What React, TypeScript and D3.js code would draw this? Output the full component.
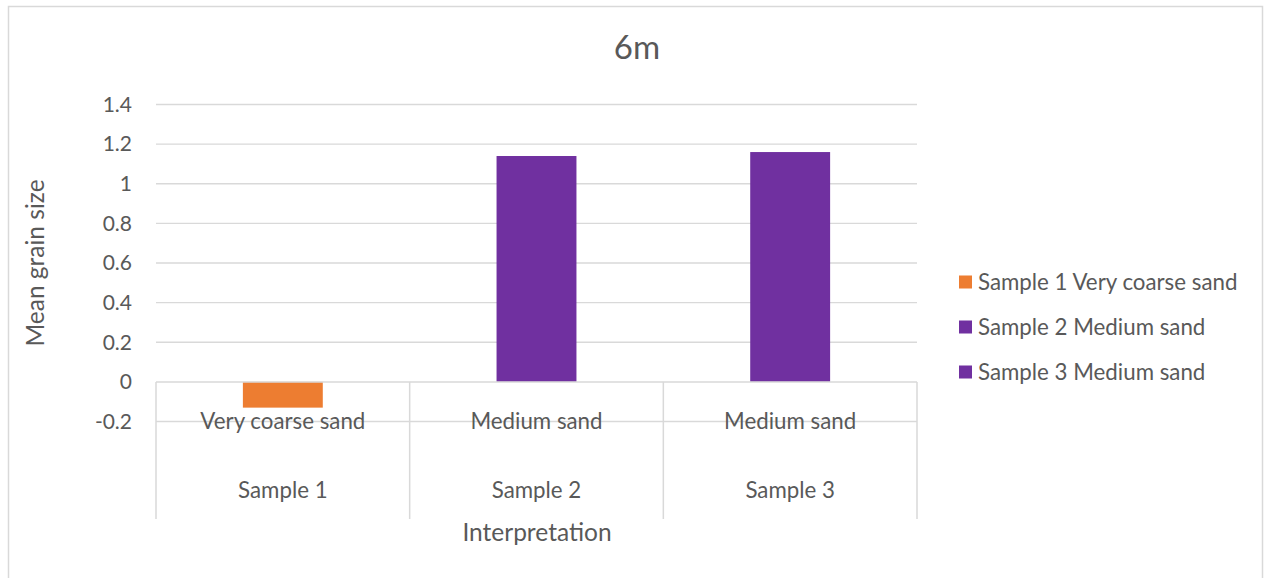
import React from "react";
import * as d3 from "d3";

const categories = ["Sample 1", "Sample 2", "Sample 3"];
const interpretations = ["Very coarse sand", "Medium sand", "Medium sand"];
const values = [-0.13, 1.14, 1.16];
const barColors = ["#ED7D31", "#7030A0", "#7030A0"];
const legendLabels = ["Sample 1 Very coarse sand", "Sample 2 Medium sand", "Sample 3 Medium sand"];
const yTicks = [-0.2, 0, 0.2, 0.4, 0.6, 0.8, 1, 1.2, 1.4];

const W = 1267;
const H = 578;
const FONT = "Lato, 'Open Sans', sans-serif";
const TEXT = "#595959";
const GRID = "#d9d9d9";

export default function App() {
  const left = 156;
  const right = 917;
  const y = d3.scaleLinear().domain([-0.2, 1.4]).range([421.5, 104.5]);
  const x = d3.scaleBand<string>().domain(categories).range([left, right]).padding(0);
  const barW = x.bandwidth() * 0.315;
  const zeroY = y(0);
  const axisBottom = 519;
  const fmt = (t: number) => (t === 0 ? "0" : d3.format("~g")(t).replace("\u2212", "-"));

  return (
    <svg width={W} height={H} style={{ position: "absolute", left: 0, top: 0, fontFamily: FONT }}>
      <rect x={8.5} y={6.5} width={1254} height={H + 10} fill="#fff" stroke="#d9d9d9" strokeWidth={1.5} />
      <text x={637} y={59} textAnchor="middle" fontSize={33} fill={TEXT}>6m</text>
      {yTicks.map((t) => (
        <g key={t}>
          {t !== 0 && (
            <line x1={left} x2={right} y1={y(t)} y2={y(t)} stroke={GRID} strokeWidth={1.3} />
          )}
          <text x={132} y={y(t)} dy="0.35em" textAnchor="end" fontSize={21} fill={TEXT}>
            {fmt(t)}
          </text>
        </g>
      ))}
      {categories.map((c, i) => {
        const v = values[i];
        const cx = (x(c) as number) + x.bandwidth() / 2;
        return (
          <g key={c}>
            <rect
              x={cx - barW / 2}
              y={Math.min(y(v), zeroY)}
              width={barW}
              height={Math.abs(y(v) - zeroY)}
              fill={barColors[i]}
            />
            <text x={cx} y={421.5} dy="0.35em" textAnchor="middle" fontSize={22.3} fill={TEXT}>
              {interpretations[i]}
            </text>
            <text x={cx} y={490} dy="0.35em" textAnchor="middle" fontSize={22.3} fill={TEXT}>
              {c}
            </text>
          </g>
        );
      })}
      <line x1={left} x2={right} y1={zeroY} y2={zeroY} stroke={GRID} strokeWidth={1.5} />
      {[...categories.map((c) => x(c) as number), right].map((px, i) => (
        <line key={i} x1={px} x2={px} y1={zeroY} y2={axisBottom} stroke={GRID} strokeWidth={1.5} />
      ))}
      <text x={537} y={532} dy="0.35em" textAnchor="middle" fontSize={24.5} fill={TEXT}>Interpretation</text>
      <text
        transform={`translate(35, ${(y(1.4) + y(-0.2)) / 2}) rotate(-90)`}
        dy="0.35em"
        textAnchor="middle"
        fontSize={24.5}
        fill={TEXT}
      >
        Mean grain size
      </text>
      {legendLabels.map((l, i) => (
        <g key={l} transform={`translate(959, ${282 + i * 45})`}>
          <rect x={0} y={-6.5} width={13} height={13} fill={barColors[i]} />
          <text x={19} y={0} dy="0.35em" fontSize={22.3} fill={TEXT}>{l}</text>
        </g>
      ))}
    </svg>
  );
}
